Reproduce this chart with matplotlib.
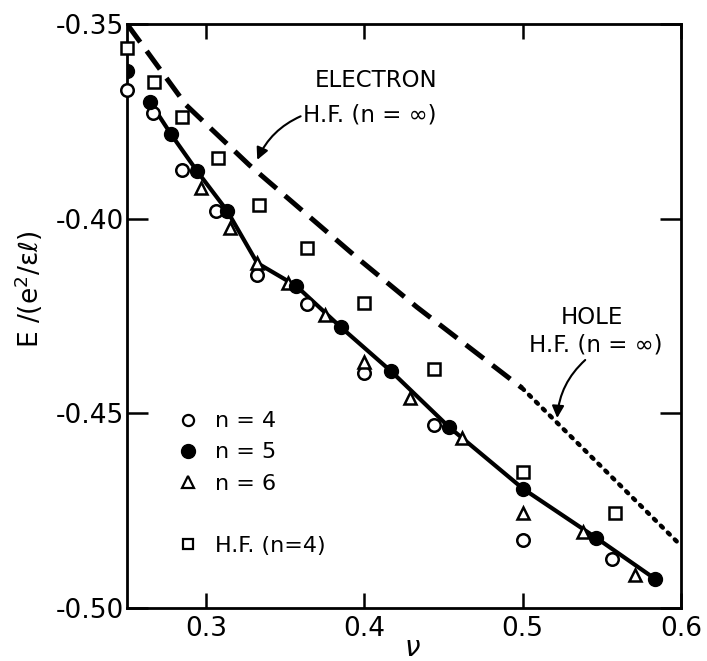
import numpy as np
import matplotlib
matplotlib.use("Agg")
from matplotlib import pyplot as plt
from matplotlib.lines import Line2D

# n = 4 (open circles)
nu_n4 = [0.250, 0.2664, 0.2848, 0.3063, 0.3323, 0.364, 0.400, 0.4439, 0.5003, 0.5567]
E_n4 = [-0.3670, -0.3729, -0.3875, -0.3980, -0.4145, -0.4219, -0.4396, -0.4530, -0.4825, -0.4874]

# n = 5 (filled circles)
nu_n5 = [0.250, 0.2645, 0.2778, 0.2943, 0.3133, 0.357, 0.3849, 0.4166, 0.4534, 0.5003, 0.5465, 0.5839]
E_n5 = [-0.3621, -0.3700, -0.3783, -0.3878, -0.3980, -0.4173, -0.4278, -0.4391, -0.4535, -0.4694, -0.4820, -0.4926]

# n = 6 (triangles)
nu_n6 = [0.2968, 0.3152, 0.3323, 0.352, 0.3748, 0.3995, 0.4286, 0.4616, 0.5003, 0.5383, 0.5712]
E_n6 = [-0.3921, -0.4024, -0.4114, -0.4165, -0.4247, -0.4368, -0.4461, -0.4563, -0.4756, -0.4805, -0.4915]

# H.F. n = 4 (squares)
nu_hf4 = [0.250, 0.267, 0.285, 0.3076, 0.3336, 0.364, 0.400, 0.4439, 0.5003, 0.558]
E_hf4 = [-0.3562, -0.3649, -0.3739, -0.3844, -0.3965, -0.4075, -0.4217, -0.4386, -0.4651, -0.4756]

# solid curve through the points
nu_fit = [0.2645, 0.2778, 0.2943, 0.3133, 0.3323, 0.357, 0.3849, 0.4166, 0.4534, 0.5003, 0.5465, 0.5839]
E_fit = [-0.3700, -0.3783, -0.3878, -0.3980, -0.4114, -0.4173, -0.4278, -0.4391, -0.4535, -0.4694, -0.4820, -0.4926]

# H.F. n = inf, electron (dashed) and hole (dotted)
nu_el = [0.250, 0.2873, 0.3272, 0.397, 0.4331, 0.4996]
E_el = [-0.3500, -0.3708, -0.3862, -0.4106, -0.4227, -0.4435]
nu_hole = [0.4996, 0.5978]
E_hole = [-0.4435, -0.4831]

plt.rcParams['font.family'] = ['DejaVu Sans']

fig = plt.figure(figsize=(7.07, 6.61), dpi=100)
ax = fig.add_axes([0.1796, 0.0802, 0.7836, 0.8835])

ax.plot(nu_el, E_el, color='k', lw=3.6, dashes=(4.5, 2.2), zorder=2)
ax.plot(nu_hole, E_hole, color='k', lw=3.2, dashes=(0.6, 1.6), dash_capstyle='round', zorder=2)
ax.plot(nu_fit, E_fit, color='k', lw=3.0, zorder=2)

ax.plot(nu_hf4, E_hf4, ls='none', marker='s', ms=8, mfc='white', mec='k', mew=1.8, zorder=3, clip_on=False)
ax.plot(nu_n4, E_n4, ls='none', marker='o', ms=9, mfc='white', mec='k', mew=1.8, zorder=4, clip_on=False)
ax.plot(nu_n6, E_n6, ls='none', marker='^', ms=9, mfc='white', mec='k', mew=1.8, zorder=4, clip_on=False)
ax.plot(nu_n5, E_n5, ls='none', marker='o', ms=10, mfc='k', mec='k', zorder=5)

ax.set_xlim(0.25, 0.6)
ax.set_ylim(-0.50, -0.35)
ax.set_xticks([0.3, 0.4, 0.5, 0.6])
ax.set_xticklabels(['0.3', '0.4', '0.5', '0.6'])
ax.set_yticks([-0.50, -0.45, -0.40, -0.35])
ax.set_yticklabels(['-0.50', '-0.45', '-0.40', '-0.35'])
ax.tick_params(axis='x', direction='in', length=11, width=1.8, top=True, labelsize=19, pad=6)
ax.tick_params(axis='y', direction='in', length=15, width=1.8, right=True, labelsize=19, pad=2)
for s in ax.spines.values():
    s.set_linewidth(2.0)

ax.set_ylabel('E /(e$^2$/εℓ)', fontsize=19)
ax.yaxis.set_label_coords(-0.148, 0.545)
ax.text(0.430, -0.5103, 'ν', fontsize=20, style='italic', ha='center', va='center')

# annotations
ax.text(0.4458, -0.3644, 'ELECTRON', fontsize=16.5, ha='right', va='center')
ax.annotate('H.F. (n = ∞)', xy=(0.3323, -0.3849), xytext=(0.4458, -0.3734),
            fontsize=16.5, ha='right', va='center',
            arrowprops=dict(arrowstyle='-|>', color='k', lw=1.5, mutation_scale=18,
                            connectionstyle='arc3,rad=0.2', shrinkA=0, shrinkB=0,
                            relpos=(0.0, 0.5)))
ax.text(0.544, -0.4253, 'HOLE', fontsize=16.5, ha='center', va='center')
ax.text(0.546, -0.4325, 'H.F. (n = ∞)', fontsize=16.5, ha='center', va='center')
ax.annotate('', xy=(0.5218, -0.4512), xytext=(0.5395, -0.4363),
            arrowprops=dict(arrowstyle='-|>', color='k', lw=1.5, mutation_scale=18,
                            connectionstyle='arc3,rad=0.2', shrinkA=0, shrinkB=0))

handles = [
    Line2D([], [], ls='none', marker='o', ms=8, mfc='white', mec='k', mew=1.6),
    Line2D([], [], ls='none', marker='o', ms=10, mfc='k', mec='k'),
    Line2D([], [], ls='none', marker='^', ms=8, mfc='white', mec='k', mew=1.6),
    Line2D([], [], ls='none'),
    Line2D([], [], ls='none', marker='s', ms=7, mfc='white', mec='k', mew=1.6),
]
labels = ['n = 4', 'n = 5', 'n = 6', ' ', 'H.F. (n=4)']
ax.legend(handles, labels, loc='upper left', bbox_to_anchor=(0.078, 0.352), frameon=False,
          fontsize=16, handlelength=0.8, handletextpad=0.8, labelspacing=0.5,
          borderaxespad=0)

fig.savefig('out.png', dpi=100)
